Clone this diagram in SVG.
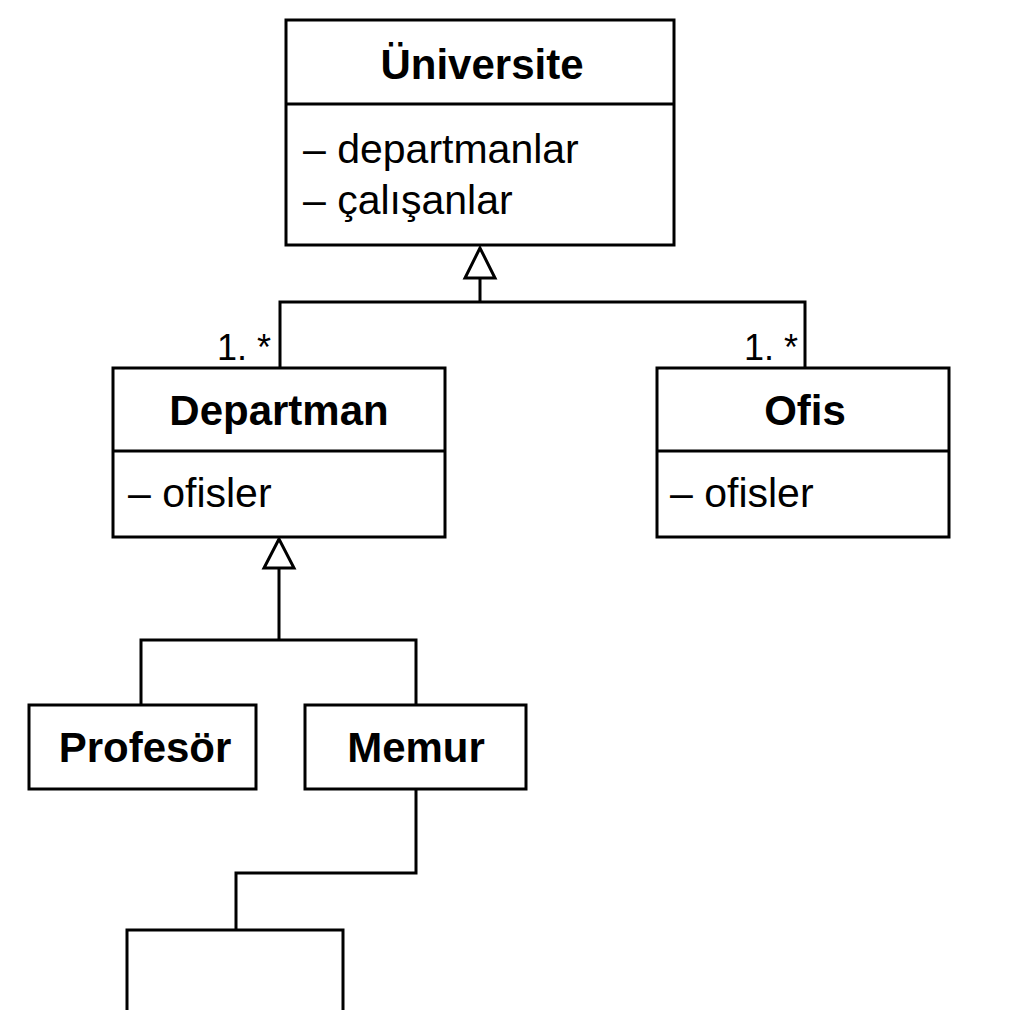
<svg xmlns="http://www.w3.org/2000/svg" width="1024" height="1024" viewBox="0 0 1024 1024">
<style>
.box{fill:#fff;stroke:#000;stroke-width:3}
.ln{fill:none;stroke:#000;stroke-width:3}
.t{font-family:"Liberation Sans",Arial,sans-serif;font-weight:bold;font-size:42px;fill:#000;text-anchor:middle}
.a{font-family:"Liberation Sans",Arial,sans-serif;font-size:41px;fill:#000}
.m{font-family:"Liberation Sans",Arial,sans-serif;font-size:36px;fill:#000}
</style>
<rect width="1024" height="1024" fill="#fff"/>
<g id="connectors">
<polygon class="box" points="480,248 465,278 495,278"/>
<path class="ln" d="M480,278 V302 M280,368 V302 H805 V368"/>
<polygon class="box" points="279,539 264,568 294,568"/>
<path class="ln" d="M279,568 V640 M141,705 V640 H416 V705"/>
<path class="ln" d="M416,789 V873 H236 V930"/>
<text class="m" x="217" y="360">1. *</text>
<text class="m" x="744" y="360">1. *</text>
</g>
<g id="universite">
<rect class="box" x="286" y="20" width="388" height="225"/>
<line class="ln" x1="286" y1="104" x2="674" y2="104"/>
<text class="t" x="482" y="79">Üniversite</text>
<text class="a" x="303" y="163">– departmanlar</text>
<text class="a" x="303" y="214">– çalışanlar</text>
</g>
<g id="departman">
<rect class="box" x="113" y="368" width="332" height="169"/>
<line class="ln" x1="113" y1="451" x2="445" y2="451"/>
<text class="t" x="279" y="425">Departman</text>
<text class="a" x="128" y="507">– ofisler</text>
</g>
<g id="ofis">
<rect class="box" x="657" y="368" width="292" height="169"/>
<line class="ln" x1="657" y1="451" x2="949" y2="451"/>
<text class="t" x="805" y="425">Ofis</text>
<text class="a" x="670" y="507">– ofisler</text>
</g>
<g id="profesor">
<rect class="box" x="29" y="705" width="227" height="84"/>
<text class="t" x="145" y="762">Profesör</text>
</g>
<g id="memur">
<rect class="box" x="305" y="705" width="221" height="84"/>
<text class="t" x="416" y="762">Memur</text>
</g>
<g id="alt">
<path class="ln" d="M127,1010 V930 H343 V1010"/>
</g>
</svg>
